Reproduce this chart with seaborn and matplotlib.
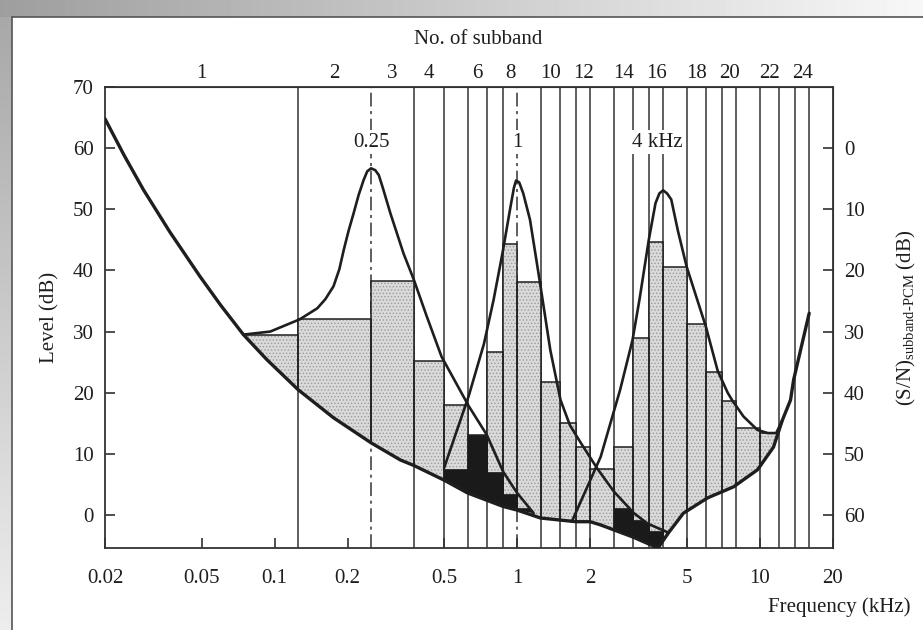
import numpy as np
import matplotlib
matplotlib.use('Agg')
import matplotlib.pyplot as plt
from matplotlib.patches import Polygon
from matplotlib.ticker import NullLocator
import seaborn as sns

nan = np.nan

# subband edges in kHz (band 1 really starts at 0, the axis starts at 0.02)
band_edges = [0.02, 0.125, 0.25, 0.375, 0.5, 0.625, 0.75, 0.875, 1.0, 1.25, 1.5, 1.75,
              2.0, 2.5, 3.0, 3.5, 4.0, 5.0, 6.0, 7.0, 8.0, 10.0, 12.0, 14.0, 16.0]
top_labels = [1, 2, 3, 4, 6, 8, 10, 12, 14, 16, 18, 20, 22, 24]

# subband signal levels (stippled) and noise levels (black), dB
signal_level = [29.5, 32.0, 38.3, 25.2, 18.0, 13.1, 26.6, 44.4, 38.1, 21.7, 15.1, 11.2,
                7.5, 11.2, 28.9, 44.6, 40.6, 31.2, 23.4, 18.7, 14.3, 13.4, nan, nan]
noise_level = [nan, nan, nan, nan, 7.6, 13.1, 7.1, 3.4, 1.2, nan, nan, nan,
               nan, 1.1, -0.8, -2.7, nan, nan, nan, nan, nan, nan, nan, nan]

# threshold in quiet
quiet_f = [0.02, 0.024, 0.0288, 0.037, 0.0493, 0.06, 0.0744, 0.093, 0.125, 0.175, 0.25,
           0.33, 0.375, 0.5, 0.625, 0.875, 1.0, 1.25, 1.75, 2.0, 2.2, 3.0, 3.81, 4.21,
           4.85, 6.1, 7.8, 9.8, 11.4, 12.4, 13.4, 13.8, 16.0]
quiet_L = [64.8, 58.8, 53.2, 46.3, 39.0, 34.3, 29.5, 25.4, 20.5, 15.9, 11.8,
           9.0, 8.1, 5.7, 3.6, 1.4, 0.8, -0.5, -1.1, -1.1, -1.6, -3.6, -5.4, -2.9,
           0.3, 2.8, 4.6, 7.4, 11.1, 15.5, 18.8, 22.1, 33.0]

# masked thresholds of the 0.25, 1 and 4 kHz tones
m250_f = [0.0744, 0.096, 0.127, 0.150, 0.162, 0.175, 0.185, 0.193, 0.202, 0.212, 0.222,
          0.233, 0.241, 0.25, 0.26, 0.269, 0.28, 0.30, 0.34, 0.375, 0.424, 0.488,
          0.632, 0.75, 0.875, 1.0, 1.17]
m250_L = [29.5, 30.0, 32.0, 33.8, 35.3, 37.4, 40.2, 43.4, 46.5, 49.4, 52.3,
          54.8, 56.2, 56.7, 56.4, 55.6, 53.4, 49.4, 42.8, 38.5, 32.5, 25.9,
          17.8, 13.1, 7.1, 3.6, 0.3]
m1k_f = [0.5, 0.632, 0.73, 0.80, 0.87, 0.94, 0.97, 0.99, 1.02, 1.06, 1.13, 1.24, 1.37,
         1.51, 1.65, 1.83, 2.14, 2.51, 3.03, 3.45, 4.21]
m1k_L = [7.7, 19.5, 28.0, 35.2, 42.8, 50.5, 53.5, 54.7, 54.4, 52.6, 48.3, 38.2, 27.0,
         18.8, 14.7, 11.8, 7.6, 3.8, 0.3, -1.4, -2.9]
m4k_f = [1.68, 2.21, 2.66, 2.99, 3.2, 3.49, 3.72, 3.86, 4.0, 4.15, 4.32, 4.6, 5.0, 6.0,
         6.71, 7.38, 7.72, 8.58, 9.8, 10.8, 11.7, 12.4]
m4k_L = [-1.1, 9.5, 20.5, 28.6, 35.4, 45.0, 51.0, 52.6, 53.1, 52.6, 51.6, 46.5, 40.6, 30.8,
         23.6, 20.0, 18.7, 16.1, 13.9, 13.4, 13.4, 15.5]

sns.set_style('ticks')
plt.rcParams['font.family'] = ['Liberation Serif', 'DejaVu Serif']
plt.rcParams['mathtext.fontset'] = 'custom'
plt.rcParams['mathtext.rm'] = 'Liberation Serif'
plt.rcParams['hatch.linewidth'] = 0.6
ink = '#1e1e1e'

fig = plt.figure(figsize=(9.23, 6.3), dpi=100)

# grey slide border at top and left
bg = fig.add_axes([0, 0, 1, 1], zorder=-5)
bg.imshow(np.linspace(0.62, 0.97, 256)[None, :], extent=[0, 923, 17, 0],
          cmap='gray', vmin=0, vmax=1, aspect='auto')
bg.imshow(np.linspace(0.66, 0.93, 256)[:, None], extent=[0, 12, 630, 17],
          cmap='gray', vmin=0, vmax=1, aspect='auto')
bg.plot([12, 923], [17, 17], color='#555', lw=1.2)
bg.plot([12, 12], [17, 630], color='#555', lw=1.2)
bg.set_xlim(0, 923)
bg.set_ylim(630, 0)
bg.axis('off')

ax = fig.add_axes([105 / 923, 82 / 630, 727.7 / 923, 461 / 630])
ax.set_xscale('log')
ax.set_xlim(0.02, 20)
ax.set_ylim(-5.4, 70)

# subband boundaries
for e in band_edges[1:]:
    ls = (0, (9, 3, 2, 3)) if e in (0.25, 1.0) else '-'
    ax.axvline(e, color='#333', lw=1.1, ls=ls, zorder=1)

lefts = np.array(band_edges[:-1])
widths = np.diff(band_edges)
floor = -10

above_quiet = Polygon(list(zip(quiet_f, quiet_L)) + [(16, 100), (0.02, 100)],
                      closed=True, transform=ax.transData)

sig = np.array(signal_level)
ok = ~np.isnan(sig)
fill = ax.bar(lefts[ok], sig[ok] - floor, width=widths[ok], bottom=floor, align='edge',
              color='#dadada', edgecolor='#9a9a9a', hatch='.....', linewidth=0, zorder=2)
outl = ax.bar(lefts[ok], sig[ok] - floor, width=widths[ok], bottom=floor, align='edge',
              fill=False, edgecolor=ink, linewidth=1.1, zorder=3)
for p in list(fill) + list(outl):
    p.set_clip_path(above_quiet)

# black noise areas, kept between threshold in quiet and the masker skirt
noise = np.array(noise_level)
nk = ~np.isnan(noise)
for lo, hi, mf, mL in [(0.375, 1.17, m250_f, m250_L), (1.8, 4.21, m1k_f, m1k_L)]:
    top = [(f, L) for f, L in zip(mf, mL) if lo <= f <= hi]
    bot = [(f, L) for f, L in zip(quiet_f, quiet_L) if lo <= f <= hi][::-1]
    clip = Polygon(top + bot, closed=True, transform=ax.transData)
    sel = nk & (lefts >= lo - 1e-9) & (lefts < hi)
    bars = ax.bar(lefts[sel], noise[sel] - floor, width=widths[sel], bottom=floor,
                  align='edge', color='#1a1a1a', edgecolor='#1a1a1a', linewidth=0.5, zorder=4)
    for p in bars:
        p.set_clip_path(clip)

# threshold in quiet and masked thresholds
sns.lineplot(x=quiet_f, y=quiet_L, ax=ax, color=ink, linewidth=2.4, sort=False,
             estimator=None, zorder=6, solid_joinstyle='round')
for mf, mL in [(m250_f, m250_L), (m1k_f, m1k_L), (m4k_f, m4k_L)]:
    sns.lineplot(x=mf, y=mL, ax=ax, color=ink, linewidth=1.9, sort=False,
                 estimator=None, zorder=6, solid_joinstyle='round')

for txt, f in [('0.25', 0.25), ('1', 1.0), ('4 kHz', 3.8)]:
    ax.text(f, 61, txt, ha='center', va='center', fontsize=15, color=ink, zorder=7,
            bbox=dict(facecolor='white', edgecolor='none', pad=1.5))

ax.set_xticks([0.02, 0.05, 0.1, 0.2, 0.5, 1, 2, 5, 10, 20])
ax.set_xticklabels(['0.02', '0.05', '0.1', '0.2', '0.5', '1', '2', '5', '10', '20'])
ax.xaxis.set_minor_locator(NullLocator())
ax.set_yticks(range(0, 71, 10))
ax.tick_params(axis='both', direction='in', length=7, width=1.1, labelsize=15,
               colors=ink)
ax.tick_params(axis='x', pad=15)
ax.tick_params(axis='y', pad=8)
for s in ax.spines.values():
    s.set_color('#333')
    s.set_linewidth(1.3)
ax.set_ylabel('Level (dB)', fontsize=15, color=ink, labelpad=10)

# right axis: S/N of subband PCM
sec_y = ax.secondary_yaxis('right', functions=(lambda y: 60 - y, lambda y: 60 - y))
sec_y.set_yticks(range(0, 61, 10))
sec_y.tick_params(direction='in', length=7, width=1.1, labelsize=15, colors=ink, pad=8)
sec_y.set_ylabel('(S/N)$_{\\mathrm{subband\u2010PCM}}$ (dB)', fontsize=15, color=ink,
                 labelpad=22)

# top axis: subband numbers
centers = [np.sqrt(band_edges[n - 1] * band_edges[n]) for n in top_labels]
sec_x = ax.secondary_xaxis('top')
sec_x.set_xticks(centers)
sec_x.set_xticklabels([str(n) for n in top_labels])
sec_x.xaxis.set_minor_locator(NullLocator())
sec_x.tick_params(length=0, labelsize=15, colors=ink, pad=3)

fig.text(478 / 923, 1 - 40 / 630, 'No. of subband', ha='center', va='center',
         fontsize=15, color=ink)
fig.text(910 / 923, 1 - 607 / 630, 'Frequency (kHz)', ha='right', va='center',
         fontsize=15, color=ink)

fig.savefig('out.png', dpi=100)
